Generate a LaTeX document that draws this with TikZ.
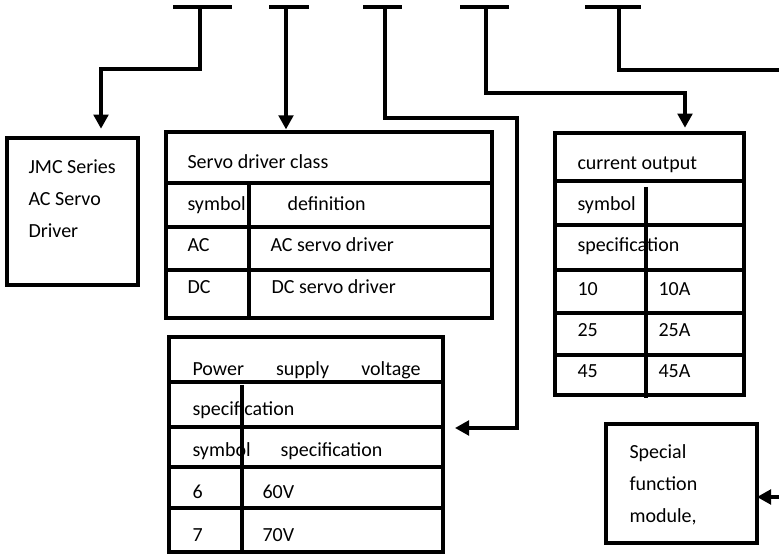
\documentclass[tikz,border=0pt]{standalone}
\usepackage{fontspec}
\setmainfont{Carlito}
\usepackage{tikz}
\usetikzlibrary{arrows.meta,positioning}

\begin{document}
\begin{tikzpicture}[x=0.75pt,y=-0.75pt,->,>={Triangle[length=10.5pt,width=11pt]},
                    line width=2.3pt,font=\fontsize{15}{18}\selectfont]
  \tikzstyle{box}=[draw,line width=2.6pt,inner sep=0pt,outer sep=0pt,anchor=north west]
  \tikzstyle{rule}=[-,line width=2.6pt]
  \tikzstyle{txt}=[inner sep=0pt,anchor=mid west]
  \useasboundingbox (0,0) rectangle (779,555);

  % boxes
  \node[box,minimum width=98.25pt,minimum height=110.25pt]  (jmc) at (7,138)   {};
  \node[box,minimum width=244.5pt,minimum height=139.5pt]   (sv)  at (166,132) {};
  \node[box,minimum width=141.75pt,minimum height=196.5pt]  (co)  at (555,133) {};
  \node[box,minimum width=205.5pt,minimum height=161.25pt]  (pw)  at (169,337) {};
  \node[box,minimum width=113.25pt,minimum height=89.25pt]  (sp)  at (606,424) {};

  % table rules
  \foreach \y in {183,227,270}
    \draw[rule] (166,\y) -- (492,\y);
  \draw[rule] (249,183) -- (249,320);
  \foreach \y in {181,225,270,313,355}
    \draw[rule] (555,\y) -- (744,\y);
  \draw[rule] (646,187) -- (646,398);
  \foreach \y in {382,427,467,508}
    \draw[rule] (169,\y) -- (443,\y);
  \draw[rule] (242,385) -- (242,552);

  % texts
  \node[txt] (jmc1) at (27,170) {JMC Series};
  \node[txt] (jmc2) at (27,202) {AC Servo};
  \node[txt] (jmc3) at (27,234) {Driver};

  \node[txt] (sv0)  at (186,165) {Servo driver class};
  \node[txt] (sv1)  at (186,207) {symbol};
  \node[txt] (sv1b) at (286,207) {definition};
  \node[txt] (sv2)  at (186,248) {AC};
  \node[txt] (sv2b) at (269,248) {AC servo driver};
  \node[txt] (sv3)  at (186,290) {DC};
  \node[txt] (sv3b) at (270,290) {DC servo driver};

  \node[txt] (co0)  at (576,166) {current output};
  \node[txt] (co1)  at (576,207) {symbol};
  \node[txt] (co2)  at (576,248) {specification};
  \node[txt] (co3)  at (576,292) {10};
  \node[txt] (co3b) at (657,292) {10A};
  \node[txt] (co4)  at (576,333) {25};
  \node[txt] (co4b) at (657,333) {25A};
  \node[txt] (co5)  at (576,374) {45};
  \node[txt] (co5b) at (657,374) {45A};

  \node[txt] (pw0)  at (191,372) {\makebox[171pt][s]{Power supply voltage}};
  \node[txt] (pw1)  at (191,412) {specification};
  \node[txt] (pw2)  at (191,453) {symbol};
  \node[txt] (pw2b) at (279,453) {specification};
  \node[txt] (pw3)  at (191,495) {6};
  \node[txt] (pw3b) at (261,495) {60V};
  \node[txt] (pw4)  at (191,538) {7};
  \node[txt] (pw4b) at (261,538) {70V};

  \node[txt] (sp1)  at (628,455) {Special};
  \node[txt] (sp2)  at (628,487) {function};
  \node[txt] (sp3)  at (628,519) {module,};

  % top bars
  \draw[rule] (173,7) -- (232,7);
  \draw[rule] (269,7) -- (309,7);
  \draw[rule] (363,7) -- (402,7);
  \draw[rule] (460,7) -- (509,7);
  \draw[rule] (585,7) -- (641,7);

  \coordinate (t1) at (200,7);  \coordinate (t1b) at (101,69);
  \coordinate (t2) at (286,7);
  \coordinate (t3) at (385,7);  \coordinate (t3b) at (517,118);
  \coordinate (t3c) at (517,428);
  \coordinate (t4) at (486,7);  \coordinate (t4b) at (685,93);
  \coordinate (t5) at (619,7);  \coordinate (t5b) at (779,70);
  \coordinate (sin) at (779,497);

  % connectors
  \draw (t1) |- (t1b) -- ([yshift=7pt]jmc.north -| t1b);
  \draw[shorten >=2pt] (t2) -- (t2 |- sv.north);
  \draw (t3) |- (t3b) -- (t3c) -- ([xshift=9pt]t3c -| pw.east);
  \draw[shorten >=4pt] (t4) |- (t4b) -- (t4b |- co.north);
  \draw[-] (t5) |- (t5b);
  \draw (sin) -- (sin -| sp.east);
\end{tikzpicture}
\end{document}
